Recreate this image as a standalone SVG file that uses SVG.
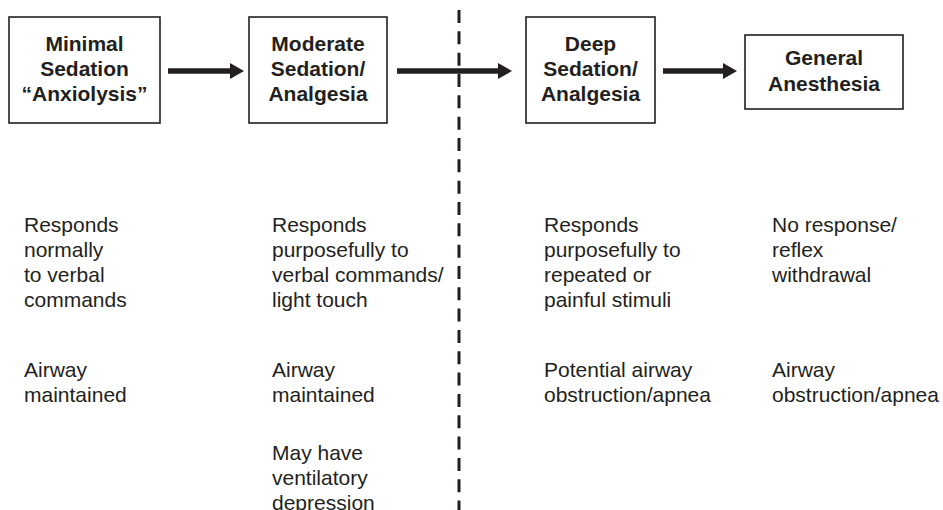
<svg xmlns="http://www.w3.org/2000/svg" width="943" height="510" viewBox="0 0 943 510">
<style>
.box{fill:#fff;stroke:#231f20;stroke-width:1.6}
.hd{font-family:"Liberation Sans",Arial,sans-serif;font-weight:bold;font-size:21px;fill:#231f20;text-anchor:middle}
.bd{font-family:"Liberation Sans",Arial,sans-serif;font-size:21px;fill:#231f20}
.arr{stroke:#231f20;stroke-width:5.5;fill:none}
.ah{fill:#231f20}
.dash{stroke:#231f20;stroke-width:3;stroke-dasharray:13 8.33;fill:none}
</style>
<g id="divider"><line class="dash" x1="459" y1="10" x2="459" y2="510"/></g>
<g id="connectors">
<line class="arr" x1="168" y1="71" x2="232" y2="71"/><polygon class="ah" points="230,63 244,71 230,79"/>
<line class="arr" x1="397" y1="71" x2="500" y2="71"/><polygon class="ah" points="498,63 512,71 498,79"/>
<line class="arr" x1="663" y1="71" x2="725" y2="71"/><polygon class="ah" points="723,63 737,71 723,79"/>
</g>
<g id="minimal">
<rect class="box" x="9" y="17" width="151" height="106"/>
<text class="hd" x="84.5" y="51">Minimal</text>
<text class="hd" x="84.5" y="76">Sedation</text>
<text class="hd" x="84.5" y="101">“Anxiolysis”</text>
</g>
<g id="moderate">
<rect class="box" x="249" y="17" width="138" height="106"/>
<text class="hd" x="318" y="51">Moderate</text>
<text class="hd" x="318" y="76">Sedation/</text>
<text class="hd" x="318" y="101">Analgesia</text>
</g>
<g id="deep">
<rect class="box" x="526" y="17" width="129" height="106"/>
<text class="hd" x="590.5" y="51">Deep</text>
<text class="hd" x="590.5" y="76">Sedation/</text>
<text class="hd" x="590.5" y="101">Analgesia</text>
</g>
<g id="general">
<rect class="box" x="745" y="35" width="158" height="74"/>
<text class="hd" x="824" y="65">General</text>
<text class="hd" x="824" y="91">Anesthesia</text>
</g>
<g id="col1">
<text class="bd" x="24" y="232">Responds</text>
<text class="bd" x="24" y="257">normally</text>
<text class="bd" x="24" y="282">to verbal</text>
<text class="bd" x="24" y="307">commands</text>
<text class="bd" x="24" y="377">Airway</text>
<text class="bd" x="24" y="402">maintained</text>
</g>
<g id="col2">
<text class="bd" x="272" y="232">Responds</text>
<text class="bd" x="272" y="257">purposefully to</text>
<text class="bd" x="272" y="282">verbal commands/</text>
<text class="bd" x="272" y="307">light touch</text>
<text class="bd" x="272" y="377">Airway</text>
<text class="bd" x="272" y="402">maintained</text>
<text class="bd" x="272" y="460">May have</text>
<text class="bd" x="272" y="485">ventilatory</text>
<text class="bd" x="272" y="510">depression</text>
</g>
<g id="col3">
<text class="bd" x="544" y="232">Responds</text>
<text class="bd" x="544" y="257">purposefully to</text>
<text class="bd" x="544" y="282">repeated or</text>
<text class="bd" x="544" y="307">painful stimuli</text>
<text class="bd" x="544" y="377">Potential airway</text>
<text class="bd" x="544" y="402">obstruction/apnea</text>
</g>
<g id="col4">
<text class="bd" x="772" y="232">No response/</text>
<text class="bd" x="772" y="257">reflex</text>
<text class="bd" x="772" y="282">withdrawal</text>
<text class="bd" x="772" y="377">Airway</text>
<text class="bd" x="772" y="402">obstruction/apnea</text>
</g>
</svg>
